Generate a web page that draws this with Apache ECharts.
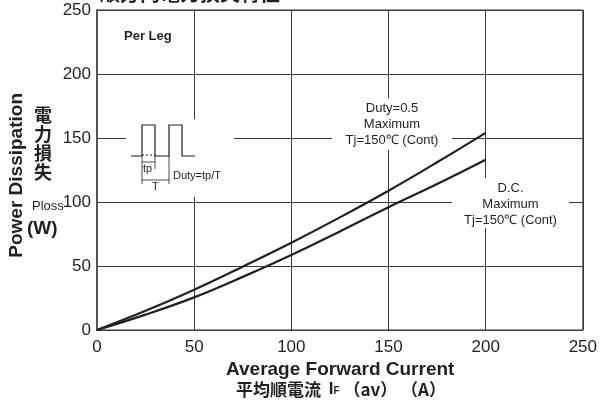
<!DOCTYPE html>
<html>
<head>
<meta charset="utf-8">
<script src="https://cdn.jsdelivr.net/npm/echarts@6/dist/echarts.min.js"></script>
<style>
  html, body { margin: 0; padding: 0; background: #fff; }
  #chart { width: 600px; height: 405px; }
</style>
</head>
<body>
<div id="chart"></div>
<script>
// 平均順電流 (A)
const current = [0, 25, 50, 75, 100, 125, 150, 175, 200];
// Duty=0.5 Maximum
const duty05 = [0, 15, 31.5, 49.5, 68.2, 88, 108.8, 131, 154];
// D.C. Maximum
const dc = [0, 12, 25.5, 41.5, 58.6, 77, 95.9, 114, 133];
const xTicks = [0, 50, 100, 150, 200, 250];
const yTicks = [0, 50, 100, 150, 200, 250];

const narrow = '"Liberation Sans Narrow", "Liberation Sans", Arial, sans-serif';
const jp = '"Noto Sans CJK JP", sans-serif';
const ink = "#231f20";
const gridColor = "#3a3a3a";

const chart = echarts.init(document.getElementById("chart"));

function pairs(ys) {
  return current.map((x, i) => [x, ys[i]]);
}

// 凡例テキスト（白地でグリッド線を隠す）
function label(x, y, lines, w, h, pad) {
  return {
    type: "group",
    x: x,
    y: y,
    z: 100,
    children: [
      { type: "rect", z: 100, shape: { x: 0, y: 0, width: w, height: h }, style: { fill: "#fff" } },
      {
        type: "text",
        z: 101,
        x: w / 2,
        y: pad,
        style: {
          text: lines.join("\n"),
          font: "13px " + narrow,
          fill: ink,
          align: "center",
          textAlign: "center",
          lineHeight: 16,
        },
      },
    ],
  };
}

const option = {
  animation: false,
  grid: {
    left: 97,
    right: 14,
    top: 10,
    bottom: 75,
    show: true,
    borderColor: gridColor,
    borderWidth: 1,
  },
  xAxis: {
    type: "value",
    min: xTicks[0],
    max: xTicks[xTicks.length - 1],
    interval: 50,
    axisLine: { show: true, lineStyle: { color: gridColor, width: 1 } },
    axisTick: { show: false },
    axisLabel: { color: ink, fontSize: 17, fontFamily: narrow, margin: 9 },
    splitLine: { lineStyle: { color: gridColor, width: 1 } },
  },
  yAxis: {
    type: "value",
    min: yTicks[0],
    max: yTicks[yTicks.length - 1],
    interval: 50,
    axisLine: { show: true, lineStyle: { color: "#555", width: 2 } },
    axisTick: { show: false },
    axisLabel: { color: ink, fontSize: 17, fontFamily: narrow, margin: 6 },
    splitLine: { lineStyle: { color: gridColor, width: 1 } },
  },
  series: [
    {
      name: "Duty=0.5",
      type: "line",
      data: pairs(duty05),
      smooth: 0.4,
      symbol: "none",
      lineStyle: { color: ink, width: 2.2 },
      z: 5,
    },
    {
      name: "D.C.",
      type: "line",
      data: pairs(dc),
      smooth: 0.4,
      symbol: "none",
      lineStyle: { color: ink, width: 2.2 },
      z: 5,
    },
  ],
  graphic: [
    // タイトル（上部で切れている）
    {
      type: "text",
      left: 100,
      top: -17,
      style: { text: "順方向電力損失特性", font: "bold 20px " + jp, fill: ink },
    },
    {
      type: "text",
      left: 124,
      top: 30,
      style: { text: "Per Leg", font: "bold 13px " + narrow, fill: ink },
    },
    // Y軸名
    {
      type: "text",
      left: 7,
      top: 93,
      rotation: Math.PI / 2,
      style: { text: "Power Dissipation", font: "bold 19px " + narrow, fill: ink },
    },
    {
      type: "text",
      left: 34,
      top: 106,
      style: { text: "電\n力\n損\n失", font: "bold 18px " + jp, fill: ink, lineHeight: 19 },
    },
    {
      type: "text",
      left: 32,
      top: 200,
      style: { text: "Ploss", font: "13px " + narrow, fill: ink },
    },
    {
      type: "text",
      left: 27,
      top: 219,
      style: { text: "(W)", font: "bold 19px " + narrow, fill: ink },
    },
    // X軸名
    {
      type: "text",
      left: 226,
      top: 360,
      style: { text: "Average Forward Current", font: "bold 19px " + narrow, fill: ink },
    },
    {
      type: "text",
      left: 236,
      top: 381,
      style: {
        text: "{j|平均順電流  }{e|I}{s|F}{j| （av） （A）}",
        rich: {
          j: { font: "bold 17px " + jp, fill: ink },
          e: { font: "bold 17px " + narrow, fill: ink },
          s: { font: "bold 10px " + narrow, fill: ink, padding: [4, 0, 0, 0] },
        },
      },
    },
    // パルス図
    {
      type: "group",
      x: 126,
      y: 119,
      z: 100,
      children: [
        { type: "rect", z: 100, shape: { x: 0, y: 0, width: 108, height: 78 }, style: { fill: "#fff" } },
        {
          type: "polyline",
          z: 101,
          shape: {
            points: [[5, 37], [16, 37], [16, 6], [29, 6], [29, 37], [43, 37], [43, 6], [56, 6], [56, 37], [69, 37]],
          },
          style: { stroke: ink, lineWidth: 1.2, fill: null },
        },
        { type: "line", z: 101, shape: { x1: 16, y1: 36, x2: 29, y2: 36 }, style: { stroke: ink, lineWidth: 1, lineDash: [2, 2] } },
        { type: "line", z: 101, shape: { x1: 16, y1: 37, x2: 16, y2: 65 }, style: { stroke: ink, lineWidth: 0.8 } },
        { type: "line", z: 101, shape: { x1: 29, y1: 37, x2: 29, y2: 50 }, style: { stroke: ink, lineWidth: 0.8 } },
        { type: "line", z: 101, shape: { x1: 43, y1: 37, x2: 43, y2: 65 }, style: { stroke: ink, lineWidth: 0.8 } },
        { type: "line", z: 101, shape: { x1: 16, y1: 43, x2: 29, y2: 43 }, style: { stroke: ink, lineWidth: 0.8 } },
        { type: "line", z: 101, shape: { x1: 16, y1: 61, x2: 43, y2: 61 }, style: { stroke: ink, lineWidth: 0.8 } },
        { type: "text", z: 101, x: 17, y: 44, style: { text: "tp", font: "11px " + narrow, fill: ink } },
        { type: "text", z: 101, x: 26, y: 62, style: { text: "T", font: "11px " + narrow, fill: ink } },
        { type: "text", z: 101, x: 47, y: 51, style: { text: "Duty=tp/T", font: "11px " + narrow, fill: ink } },
      ],
    },
    label(332, 98, ["Duty=0.5", "Maximum", "Tj=150℃ (Cont)"], 120, 52, 2),
    label(452, 178, ["D.C.", "Maximum", "Tj=150℃ (Cont)"], 117, 50, 2),
  ],
};

chart.setOption(option);
</script>
</body>
</html>
